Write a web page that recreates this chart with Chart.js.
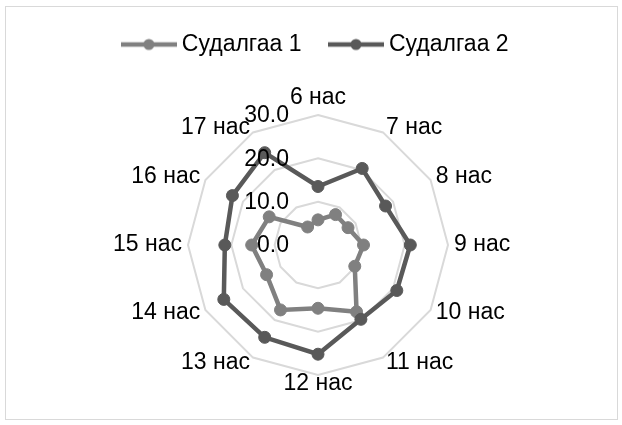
<!DOCTYPE html>
<html>
<head>
<meta charset="utf-8">
<script src="https://cdn.jsdelivr.net/npm/chart.js@4.4.0/dist/chart.umd.min.js"></script>
<style>
  html, body { margin: 0; padding: 0; background: #fff; }
  #frame { position: absolute; left: 5px; top: 6px; width: 611px; height: 412px; border: 1px solid #d9d9d9; }
  #wrap { position: absolute; left: 0; top: 0; width: 622px; height: 425px; }
</style>
</head>
<body>
<div id="frame"></div>
<div id="wrap"><canvas id="radar"></canvas></div>
<script>
var categories = ['6 нас', '7 нас', '8 нас', '9 нас', '10 нас', '11 нас', '12 нас', '13 нас', '14 нас', '15 нас', '16 нас', '17 нас'];
var seriesNames = ['Судалгаа 1', 'Судалгаа 2'];
var survey1 = [5.8, 8.1, 8.0, 10.5, 9.8, 17.8, 14.6, 17.3, 13.7, 15.3, 13.0, 4.8];
var survey2 = [13.5, 20.4, 18.0, 21.3, 21.0, 19.8, 25.2, 24.6, 25.1, 21.5, 22.8, 24.6];
var tickLabels = ['0.0', '10.0', '20.0', '30.0'];
var colors = ['#808080', '#595959'];

var family = "'Liberation Sans', Arial, sans-serif";
var fontSize = 23;

// legend marker: short line with a dot, like the excel legend
function makeMark(color) {
  var c = document.createElement('canvas');
  c.width = 56; c.height = 14;
  var g = c.getContext('2d');
  g.strokeStyle = color; g.lineWidth = 4.5;
  g.beginPath(); g.moveTo(0, 7); g.lineTo(56, 7); g.stroke();
  g.fillStyle = color;
  g.beginPath(); g.arc(28, 7, 5.5, 0, Math.PI * 2); g.fill();
  return c;
}
var marks = colors.map(makeMark);

// give the legend a fixed height so the radar sits where it should
var legendSpace = {
  id: 'legendSpace',
  beforeInit: function (chart) {
    var fit = chart.legend.fit;
    chart.legend.fit = function () { fit.call(this); this.height = 115; };
  }
};

// excel-style category and tick labels
var excelLabels = {
  id: 'excelLabels',
  afterDatasetsDraw: function (chart) {
    var scale = chart.scales.r, ctx = chart.ctx;
    ctx.save();
    ctx.font = fontSize + 'px ' + family;
    ctx.fillStyle = '#000';
    ctx.textBaseline = 'middle';
    chart.data.labels.forEach(function (label, i) {
      var p = scale.getPointPosition(i, scale.drawingArea + 6);
      var dx = p.x - scale.xCenter;
      var y = p.y;
      if (Math.abs(dx) < 1) {
        ctx.textAlign = 'center';
        y += (p.y < scale.yCenter) ? -11 : 3;
      } else {
        ctx.textAlign = dx > 0 ? 'left' : 'right';
      }
      ctx.fillText(label, p.x, y);
    });
    ctx.textAlign = 'right';
    scale.ticks.forEach(function (t) {
      var y = scale.yCenter - scale.getDistanceFromCenterForValue(t.value);
      ctx.fillText(t.label, scale.xCenter - 29, y + 1);
    });
    ctx.restore();
  }
};

var ctx = document.getElementById('radar');
new Chart(ctx, {
  type: 'radar',
  data: {
    labels: categories,
    datasets: [{
      label: seriesNames[0],
      data: survey1,
      order: 1,
      borderColor: colors[0],
      backgroundColor: colors[0],
      pointBackgroundColor: colors[0],
      pointBorderColor: colors[0],
      borderWidth: 4.5,
      pointRadius: 6,
      pointBorderWidth: 1,
      fill: false
    }, {
      label: seriesNames[1],
      data: survey2,
      order: 0,
      borderColor: colors[1],
      backgroundColor: colors[1],
      pointBackgroundColor: colors[1],
      pointBorderColor: colors[1],
      borderWidth: 4.5,
      pointRadius: 6,
      pointBorderWidth: 1,
      fill: false
    }]
  },
  options: {
    responsive: true,
    maintainAspectRatio: false,
    animation: false,
    layout: { padding: { top: 0, left: 14, right: 0, bottom: 50 } },
    plugins: {
      legend: {
        position: 'top',
        labels: {
          usePointStyle: true,
          pointStyleWidth: 43,
          padding: 33,
          color: '#000',
          font: { size: fontSize, family: family },
          sort: function (a, b) { return a.datasetIndex - b.datasetIndex; },
          generateLabels: function (chart) {
            var items = Chart.defaults.plugins.legend.labels.generateLabels(chart);
            items.forEach(function (it) { it.pointStyle = marks[it.datasetIndex]; });
            return items;
          }
        }
      },
      tooltip: { enabled: false }
    },
    scales: {
      r: {
        min: 0,
        max: 30,
        ticks: {
          stepSize: 10,
          display: false,
          callback: function (v, i) { return tickLabels[i]; }
        },
        pointLabels: { display: false },
        grid: { color: '#d9d9d9', lineWidth: 2 },
        angleLines: { display: false }
      }
    }
  },
  plugins: [legendSpace, excelLabels]
});
</script>
</body>
</html>
